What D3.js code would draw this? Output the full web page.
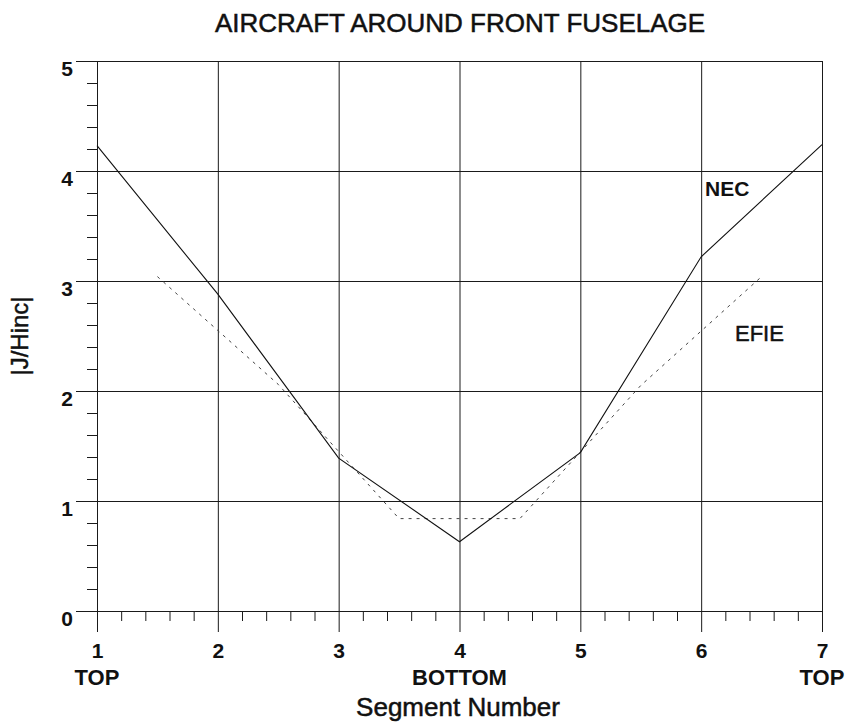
<!DOCTYPE html>
<html lang="en">
<head>
	<meta charset="UTF-8">
	<title>Aircraft around front fuselage</title>
	<script type="text/javascript" src="https://d3js.org/d3.v7.min.js"></script>
	<style>
		body { margin: 0; background: #fff; }
		text { font-family: "Liberation Sans", Arial, sans-serif; fill: #111; }
		.heavy { stroke: #111; stroke-width: 0.5; }
	</style>
</head>
<body>
	<script type="text/javascript">

		// chart data
		var segments = [1, 2, 3, 4, 5, 6, 7];
		var necValues = [4.23, 2.88, 1.39, 0.63, 1.44, 3.22, 4.24];
		var efieSegments = [1.5, 2.5, 3.5, 4.5, 5.5, 6.5];
		var efieValues = [3.04, 2.06, 0.84, 0.84, 2.05, 3.04];
		var yTicks = [0, 1, 2, 3, 4, 5];
		var xTickLabels = ["1", "2", "3", "4", "5", "6", "7"];
		var sideLabels = [[1, "TOP"], [4, "BOTTOM"], [7, "TOP"]];

		var w = 851;
		var h = 727;
		var plotLeft = 97, plotRight = 822, plotTop = 61, plotBottom = 611;

		var x = d3.scaleLinear().domain([1, 7]).range([plotLeft, plotRight]);
		var y = d3.scaleLinear().domain([0, 5]).range([plotBottom, plotTop]);

		var svg = d3.select("body")
					.append("svg")
					.attr("width", w)
					.attr("height", h);

		// minor ticks every 0.2
		var yMinor = d3.range(0, 5.01, 0.2).filter(function(v){ return Math.abs(v - Math.round(v)) > 0.01; });
		var xMinor = d3.range(1, 7.01, 0.2).filter(function(v){ return Math.abs(v - Math.round(v)) > 0.01; });

		svg.append("g")
			.attr("transform", "translate(" + plotLeft + ",0)")
			.call(d3.axisLeft(y).tickValues(yMinor).tickSize(10).tickFormat(""))
			.call(function(g){ g.select(".domain").remove(); });

		svg.append("g")
			.attr("transform", "translate(0," + plotBottom + ")")
			.call(d3.axisBottom(x).tickValues(xMinor).tickSize(10).tickFormat(""))
			.call(function(g){ g.select(".domain").remove(); });

		// major grid + labels, y
		var yAxis = svg.append("g")
			.attr("transform", "translate(" + plotLeft + ",0)")
			.call(d3.axisLeft(y).tickValues(yTicks).tickSize(21).tickPadding(3).tickFormat(d3.format("d")));
		yAxis.select(".domain").remove();
		yAxis.selectAll(".tick line").attr("x2", -21).attr("x1", plotRight - plotLeft);
		yAxis.selectAll(".tick text")
			.attr("dy", "0.7em")
			.attr("font-size", 21)
			.attr("font-weight", "bold")
			.attr("font-family", "Liberation Sans, Arial, sans-serif");

		// major grid + labels, x
		var xAxis = svg.append("g")
			.attr("transform", "translate(0," + plotBottom + ")")
			.call(d3.axisBottom(x).tickValues(segments).tickSize(21).tickPadding(11)
				.tickFormat(function(d, i){ return xTickLabels[i]; }));
		xAxis.select(".domain").remove();
		xAxis.selectAll(".tick line").attr("y2", 21).attr("y1", plotTop - plotBottom);
		xAxis.selectAll(".tick text")
			.attr("font-size", 21)
			.attr("font-weight", "bold")
			.attr("font-family", "Liberation Sans, Arial, sans-serif");

		svg.selectAll(".tick line")
			.attr("stroke", "#1a1a1a")
			.attr("stroke-width", 1);

		svg.selectAll(".side")
			.data(sideLabels)
			.enter()
			.append("text")
			.attr("class", "side")
			.attr("x", function(d){ return x(d[0]); })
			.attr("y", 685)
			.attr("text-anchor", "middle")
			.attr("font-size", 22)
			.attr("font-weight", "bold")
			.text(function(d){ return d[1]; });

		// curves
		var line = d3.line()
			.x(function(d){ return x(d[0]); })
			.y(function(d){ return y(d[1]); });

		svg.append("path")
			.datum(d3.zip(efieSegments, efieValues))
			.attr("d", line)
			.attr("fill", "none")
			.attr("stroke", "#444")
			.attr("stroke-width", 1)
			.attr("stroke-dasharray", "3,5");

		svg.append("path")
			.datum(d3.zip(segments, necValues))
			.attr("d", line)
			.attr("fill", "none")
			.attr("stroke", "#111")
			.attr("stroke-width", 1.1);

		// texts
		svg.append("text")
			.attr("class", "heavy")
			.attr("x", 460)
			.attr("y", 32)
			.attr("text-anchor", "middle")
			.attr("font-size", 26)
			.text("AIRCRAFT AROUND FRONT FUSELAGE");

		svg.append("text")
			.attr("class", "heavy")
			.attr("x", 458)
			.attr("y", 716)
			.attr("text-anchor", "middle")
			.attr("font-size", 26)
			.text("Segment Number");

		svg.append("text")
			.attr("class", "heavy")
			.attr("transform", "translate(28,336) rotate(-90)")
			.attr("text-anchor", "middle")
			.attr("font-size", 24)
			.text("|J/Hinc|");

		svg.append("text")
			.attr("x", 705)
			.attr("y", 196)
			.attr("font-size", 21)
			.attr("font-weight", "bold")
			.text("NEC");

		svg.append("text")
			.attr("class", "heavy")
			.attr("x", 735)
			.attr("y", 341)
			.attr("font-size", 22)
			.text("EFIE");

	</script>
</body>
</html>
